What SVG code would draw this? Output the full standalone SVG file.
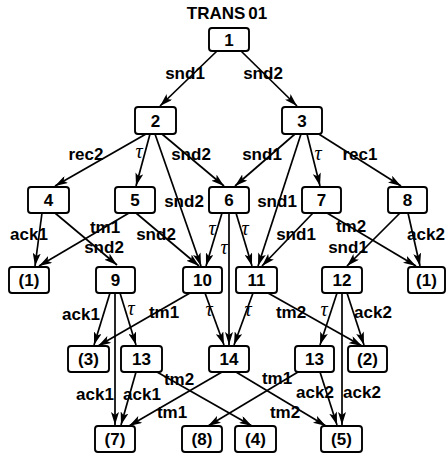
<svg xmlns="http://www.w3.org/2000/svg" width="446" height="454" viewBox="0 0 446 454">
<defs>
<marker id="ah" viewBox="0 0 13 8" refX="13" refY="4" markerWidth="13" markerHeight="8" orient="auto" markerUnits="userSpaceOnUse"><path d="M0,0 L13,4 L0,8 L3,4 z" fill="#000"/></marker>
</defs>
<style>
.n rect{fill:#fff;stroke:#000;stroke-width:1.9}
.n text{font-family:"Liberation Sans",Arial,sans-serif;font-weight:bold;font-size:17px;text-anchor:middle}
#edges line{stroke:#000;stroke-width:1.7;marker-end:url(#ah)}
.l{font-family:"Liberation Sans",Arial,sans-serif;font-weight:bold;font-size:17px;text-anchor:middle}
.t{font-family:"Liberation Serif","Times New Roman",serif;font-style:italic;font-size:20px;text-anchor:middle}
.title{font-family:"Liberation Sans",Arial,sans-serif;font-weight:bold;font-size:17px;text-anchor:middle}
</style>
<rect width="446" height="454" fill="#fff"/>
<text class="title" x="227" y="19">TRANS<tspan dx="3">01</tspan></text>

<g id="edges">
<line x1="217" y1="51" x2="160" y2="106"/>
<line x1="241" y1="51" x2="297" y2="106"/>
<line x1="146" y1="134" x2="55" y2="186"/>
<line x1="150" y1="134" x2="136" y2="186"/>
<line x1="155" y1="134" x2="201" y2="266"/>
<line x1="162" y1="134" x2="224" y2="186"/>
<line x1="295" y1="134" x2="235" y2="186"/>
<line x1="301" y1="134" x2="258" y2="266"/>
<line x1="307" y1="134" x2="320" y2="186"/>
<line x1="314" y1="131" x2="401" y2="186"/>
<line x1="42" y1="213" x2="35" y2="266"/>
<line x1="55" y1="213" x2="117" y2="265"/>
<line x1="129" y1="213" x2="39" y2="266"/>
<line x1="136" y1="213" x2="199" y2="266"/>
<line x1="222" y1="213" x2="206" y2="266"/>
<line x1="229" y1="213" x2="229" y2="345"/>
<line x1="236" y1="213" x2="252" y2="266"/>
<line x1="313" y1="213" x2="262" y2="266"/>
<line x1="327" y1="213" x2="416" y2="266"/>
<line x1="400" y1="213" x2="347" y2="266"/>
<line x1="408" y1="213" x2="420" y2="266"/>
<line x1="110" y1="293" x2="94" y2="345"/>
<line x1="115" y1="293" x2="115" y2="425"/>
<line x1="120" y1="293" x2="136" y2="345"/>
<line x1="190" y1="293" x2="98" y2="346"/>
<line x1="205" y1="293" x2="224" y2="345"/>
<line x1="253" y1="293" x2="234" y2="345"/>
<line x1="268" y1="293" x2="362" y2="346"/>
<line x1="337" y1="293" x2="320" y2="345"/>
<line x1="342" y1="293" x2="342" y2="425"/>
<line x1="347" y1="293" x2="364" y2="345"/>
<line x1="136" y1="372" x2="121" y2="425"/>
<line x1="157" y1="372" x2="252" y2="426"/>
<line x1="222" y1="372" x2="129" y2="426"/>
<line x1="298" y1="372" x2="208" y2="426"/>
<line x1="236" y1="372" x2="326" y2="426"/>
<line x1="320" y1="372" x2="337" y2="425"/>
</g>

<g id="labels">
<text class="l" x="185" y="79">snd1</text>
<text class="l" x="263" y="79">snd2</text>
<text class="l" x="86" y="160">rec2</text>
<text class="t" x="139" y="158">τ</text>
<text class="l" x="191" y="160">snd2</text>
<text class="l" x="184" y="207">snd2</text>
<text class="l" x="262" y="160">snd1</text>
<text class="l" x="277" y="207">snd1</text>
<text class="t" x="318" y="160">τ</text>
<text class="l" x="360" y="160">rec1</text>
<text class="l" x="29" y="240">ack1</text>
<text class="l" x="105" y="233">tm1</text>
<text class="l" x="104" y="253">snd2</text>
<text class="l" x="156" y="240">snd2</text>
<text class="t" x="212" y="235">τ</text>
<text class="t" x="224" y="254">τ</text>
<text class="t" x="245" y="235">τ</text>
<text class="l" x="296" y="240">snd1</text>
<text class="l" x="351" y="232">tm2</text>
<text class="l" x="348" y="253">snd1</text>
<text class="l" x="426" y="240">ack2</text>
<text class="l" x="81" y="320">ack1</text>
<text class="t" x="131" y="315">τ</text>
<text class="l" x="164" y="318">tm1</text>
<text class="t" x="209" y="316">τ</text>
<text class="t" x="248" y="316">τ</text>
<text class="l" x="291" y="318">tm2</text>
<text class="t" x="324" y="316">τ</text>
<text class="l" x="373" y="318">ack2</text>
<text class="l" x="179" y="385">tm2</text>
<text class="l" x="95" y="400">ack1</text>
<text class="l" x="142" y="400">ack1</text>
<text class="l" x="172" y="418">tm1</text>
<text class="l" x="277" y="384">tm1</text>
<text class="l" x="315" y="398">ack2</text>
<text class="l" x="362" y="398">ack2</text>
<text class="l" x="285" y="418">tm2</text>
</g>

<g id="n1" class="n"><rect x="209" y="28" width="40" height="23" rx="3"/><text x="229" y="46">1</text></g>
<g id="n2" class="n"><rect x="135" y="107" width="41" height="27" rx="3"/><text x="155.5" y="127">2</text></g>
<g id="n3" class="n"><rect x="282" y="107" width="40" height="27" rx="3"/><text x="302" y="127">3</text></g>
<g id="n4" class="n"><rect x="28" y="187" width="41" height="26" rx="3"/><text x="48.5" y="206">4</text></g>
<g id="n5" class="n"><rect x="115" y="187" width="40" height="26" rx="3"/><text x="135" y="206">5</text></g>
<g id="n6" class="n"><rect x="209" y="187" width="40" height="26" rx="3"/><text x="229" y="206">6</text></g>
<g id="n7" class="n"><rect x="302" y="187" width="39" height="26" rx="3"/><text x="321.5" y="206">7</text></g>
<g id="n8" class="n"><rect x="388" y="187" width="39" height="26" rx="3"/><text x="407.5" y="206">8</text></g>
<g id="r1a" class="n"><rect x="9" y="267" width="40" height="26" rx="3"/><text x="29" y="286">(1)</text></g>
<g id="n9" class="n"><rect x="96" y="267" width="39" height="26" rx="3"/><text x="115.5" y="286">9</text></g>
<g id="n10" class="n"><rect x="183" y="267" width="39" height="26" rx="3"/><text x="202.5" y="286">10</text></g>
<g id="n11" class="n"><rect x="236" y="267" width="41" height="26" rx="3"/><text x="256.5" y="286">11</text></g>
<g id="n12" class="n"><rect x="322" y="267" width="40" height="26" rx="3"/><text x="342" y="286">12</text></g>
<g id="r1b" class="n"><rect x="408" y="267" width="37" height="26" rx="3"/><text x="426.5" y="286">(1)</text></g>
<g id="r3" class="n"><rect x="68" y="346" width="41" height="26" rx="3"/><text x="88.5" y="365">(3)</text></g>
<g id="n13a" class="n"><rect x="121" y="346" width="41" height="26" rx="3"/><text x="141.5" y="365">13</text></g>
<g id="n14" class="n"><rect x="209" y="346" width="40" height="26" rx="3"/><text x="229" y="365">14</text></g>
<g id="n13b" class="n"><rect x="295" y="346" width="39" height="26" rx="3"/><text x="314.5" y="365">13</text></g>
<g id="r2" class="n"><rect x="348" y="346" width="39" height="26" rx="3"/><text x="367.5" y="365">(2)</text></g>
<g id="r7" class="n"><rect x="95" y="426" width="40" height="26" rx="3"/><text x="115" y="445">(7)</text></g>
<g id="r8" class="n"><rect x="182" y="426" width="40" height="26" rx="3"/><text x="202" y="445">(8)</text></g>
<g id="r4" class="n"><rect x="235" y="426" width="41" height="26" rx="3"/><text x="255.5" y="445">(4)</text></g>
<g id="r5" class="n"><rect x="321" y="426" width="41" height="26" rx="3"/><text x="341.5" y="445">(5)</text></g>
</svg>
